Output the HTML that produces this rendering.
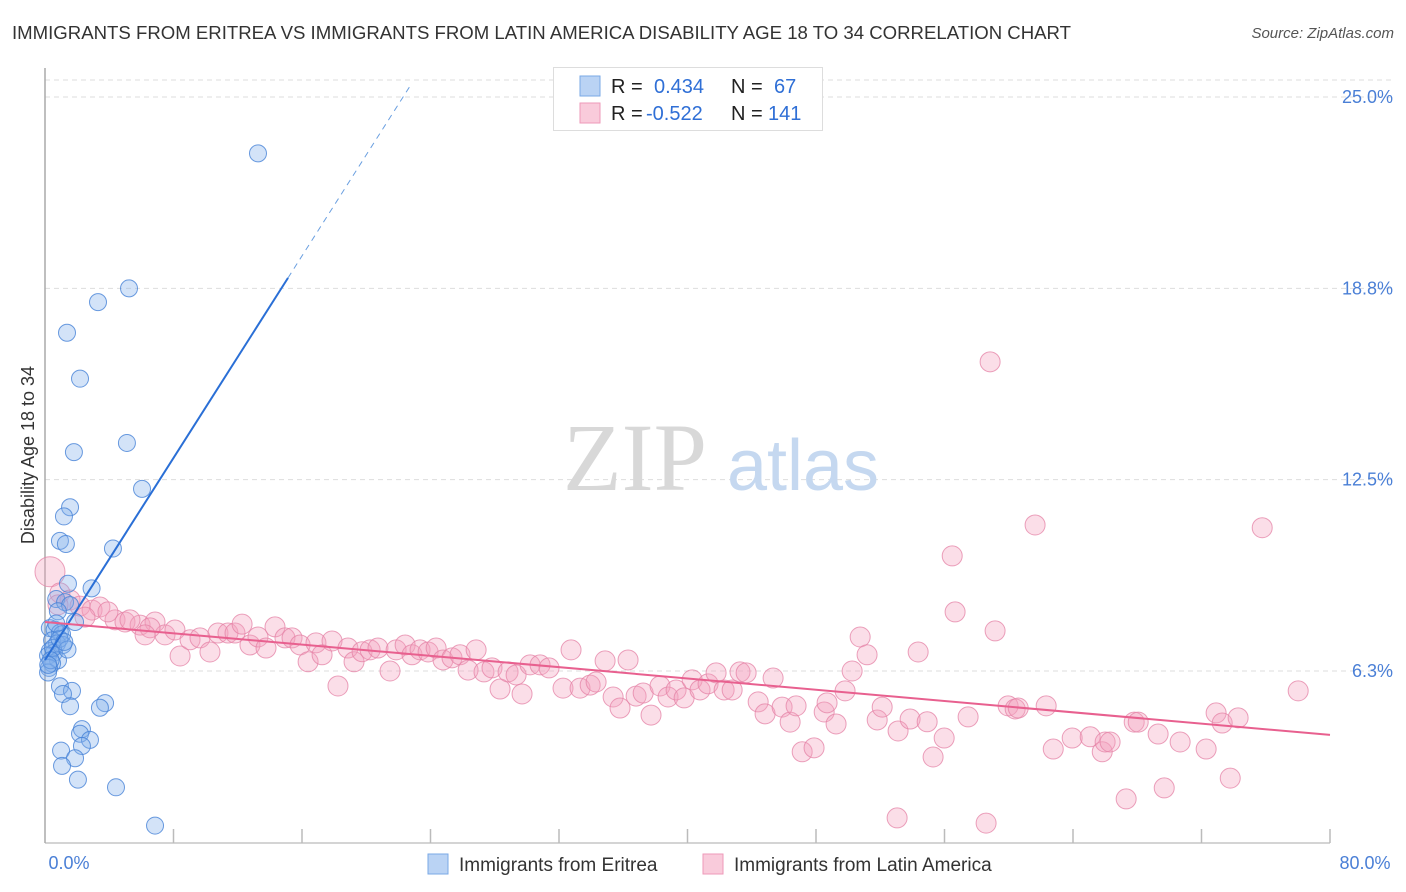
<!DOCTYPE html>
<html><head><meta charset="utf-8">
<style>
body{margin:0;background:#fff;font-family:"Liberation Sans",sans-serif;}
#wrap{position:relative;width:1406px;height:892px;overflow:hidden;}
.t{position:absolute;white-space:nowrap;}
</style></head><body>
<div id="wrap">
<div class="t" style="left:12px;top:22px;font-size:18.6px;color:#333;">IMMIGRANTS FROM ERITREA VS IMMIGRANTS FROM LATIN AMERICA DISABILITY AGE 18 TO 34 CORRELATION CHART</div>
<div class="t" style="right:12px;top:25px;font-size:15px;color:#555;font-style:italic;">Source: ZipAtlas.com</div>
<svg id="plot" width="1406" height="892" style="position:absolute;left:0;top:0"></svg>
</div>
<script>
const yTicks=[25.0,18.8,12.5,6.3];
const yTickVals=[25,18.75,12.5,6.25];
const blueX=[13.26,5.23,3.30,1.37,2.18,5.1,1.8,6.04,1.56,1.18,0.93,1.3,4.23,1.43,2.9,0.7,1.25,1.56,0.8,1.87,0.3,0.6,0.93,1.06,0.44,0.75,1.12,0.3,0.56,0.19,0.81,0.44,0.25,0.19,0.93,1.68,1.12,1.56,3.74,3.42,2.3,2.18,2.8,2.3,1.0,1.87,1.06,2.05,4.42,6.85,0.5,0.9,1.4,0.35,0.7,1.2,0.2];
const blueY=[23.16,18.75,18.3,17.3,15.8,13.7,13.4,12.2,11.6,11.3,10.5,10.4,10.25,9.1,8.95,8.6,8.5,8.4,8.2,7.85,7.65,7.6,7.5,7.45,7.25,7.15,7.1,6.9,6.85,6.75,6.6,6.5,6.35,6.2,5.75,5.6,5.5,5.1,5.2,5.05,4.35,4.2,4.0,3.8,3.65,3.4,3.15,2.7,2.45,1.2,7.0,7.3,6.95,6.6,7.8,7.2,6.45];
const pinkX=[4.36,4.98,5.92,6.85,7.47,8.09,8.41,9.03,9.65,10.27,10.77,11.39,11.83,12.27,12.76,13.26,13.76,14.32,14.94,15.38,15.88,16.38,16.87,17.25,17.87,18.24,18.86,19.24,19.74,20.24,20.73,21.48,21.86,22.42,22.85,23.35,23.85,24.35,24.78,25.34,25.84,26.34,26.84,27.33,27.83,28.33,28.83,29.33,29.70,30.20,30.82,31.38,32.25,32.75,33.31,33.94,34.31,34.87,35.37,35.80,36.30,36.80,37.24,37.73,38.29,38.79,39.29,39.79,40.29,40.78,41.28,41.78,42.28,42.78,43.27,43.65,44.40,44.83,45.33,45.89,46.39,46.76,47.14,47.88,48.51,48.69,49.25,49.81,50.25,50.75,51.18,51.81,52.12,53.05,53.11,53.86,54.36,54.92,55.29,55.98,56.48,56.66,57.47,58.59,58.84,59.15,59.96,60.40,60.59,61.64,62.33,62.77,63.95,65.07,65.82,66.00,66.31,67.31,67.81,68.06,69.30,69.68,70.67,72.29,72.91,73.29,73.79,74.28,75.78,78.02,0.31,0.93,1.56,2.18,2.93,3.42,3.92,0.81,2.49,5.29,6.54,6.23];
const pinkY=[7.92,7.85,7.75,7.85,7.43,7.59,6.74,7.27,7.33,6.87,7.49,7.49,7.49,7.78,7.10,7.36,7.00,7.69,7.33,7.33,7.10,6.55,7.17,6.78,7.23,5.76,7.00,6.55,6.88,6.94,7.00,6.25,6.94,7.10,6.78,6.94,6.87,7.00,6.61,6.68,6.78,6.28,6.94,6.22,6.35,5.66,6.22,6.12,5.50,6.45,6.45,6.35,5.69,6.94,5.69,5.79,5.89,6.58,5.40,5.04,6.61,5.43,5.53,4.81,5.76,5.40,5.63,5.37,5.96,5.63,5.83,6.19,5.63,5.63,6.22,6.19,5.24,4.85,6.02,5.07,4.58,5.11,3.61,3.74,4.91,5.21,4.52,5.60,6.25,7.36,6.78,4.65,5.07,1.45,4.29,4.68,6.87,4.59,3.44,4.06,10.01,8.18,4.75,1.28,16.35,7.56,5.11,5.01,5.04,11.02,5.11,3.70,4.06,4.10,3.61,3.93,3.93,2.07,4.58,4.58,4.19,2.43,3.93,3.70,4.88,4.55,2.75,4.72,10.93,5.60,9.49,8.80,8.57,8.37,8.24,8.34,8.18,8.41,8.01,7.92,7.66,7.43];
const blueTrend=[6.61,0.825];
const pinkTrend=[7.85,-0.0461];
const NS='http://www.w3.org/2000/svg';
const svg=document.getElementById('plot');
const X0=45,X1=1330,Y0=862.3,PPY=30.61;
function sx(v){return X0+(X1-X0)*v/80;}
function sy(v){return Y0-v*PPY;}
function mk(tag,attrs,parent){const e=document.createElementNS(NS,tag);for(const k in attrs)e.setAttribute(k,attrs[k]);(parent||svg).appendChild(e);return e;}
let g=mk('line',{x1:45,x2:1393,y1:80,y2:80,stroke:'#ddd','stroke-dasharray':'5,4'});


yTickVals.forEach((v,i)=>{
 const l=mk('line',{x1:45,x2:1393,y1:sy(v),y2:sy(v),stroke:'#ddd','stroke-dasharray':'5,4'});
 
 
 const t=mk('text',{x:1393,y:sy(v)+6,'text-anchor':'end','font-size':18,fill:'#4a7fd6','font-family':'Liberation Sans, sans-serif'});
 t.textContent=yTicks[i].toFixed(1)+'%';
 
 
});
let a=mk('line',{x1:45,x2:45,y1:68,y2:843,stroke:'#aaa','stroke-width':1.5});


a=mk('line',{x1:45,x2:1330,y1:843,y2:843,stroke:'#aaa','stroke-width':1});


for(let i=1;i<=10;i++){const tk=mk('line',{x1:sx(i*8),x2:sx(i*8),y1:829,y2:843,stroke:'#bbb','stroke-width':1.5});
 
 }
let w=mk('text',{x:635,y:490,'text-anchor':'middle','font-size':96,fill:'#d8d8d8','font-family':'Liberation Serif, serif'});w.textContent='ZIP';


w=mk('text',{x:803,y:490,'text-anchor':'middle','font-size':72,fill:'#c5d8f0','font-family':'Liberation Sans, sans-serif'});w.textContent='atlas';


pinkX.forEach((x,i)=>{const r=i===pinkX.length-12?15:10;
 const c=mk('circle',{cx:sx(x),cy:sy(pinkY[i]),r:r,fill:'rgba(244,160,190,0.35)',stroke:'rgba(228,130,165,0.75)','stroke-width':1});
 
 });
blueX.forEach((x,i)=>{
 const c=mk('circle',{cx:sx(x),cy:sy(blueY[i]),r:8.5,fill:'rgba(130,175,235,0.35)',stroke:'rgba(70,130,215,0.8)','stroke-width':1});
 
 });
const bEnd=15.13,bDash=(25.4-blueTrend[0])/blueTrend[1];
let tl=mk('line',{x1:sx(0),y1:sy(blueTrend[0]),x2:sx(bEnd),y2:sy(blueTrend[0]+blueTrend[1]*bEnd),stroke:'#2a6fd6','stroke-width':2});


tl=mk('line',{x1:sx(bEnd),y1:sy(blueTrend[0]+blueTrend[1]*bEnd),x2:sx(bDash),y2:sy(25.4),stroke:'#6a9fe0','stroke-width':1,'stroke-dasharray':'6,5'});


tl=mk('line',{x1:sx(0),y1:sy(pinkTrend[0]),x2:sx(80),y2:sy(pinkTrend[0]+pinkTrend[1]*80),stroke:'#e8608f','stroke-width':2});


let t=mk('text',{x:69,y:869,'text-anchor':'middle','font-size':18,fill:'#4a7fd6','font-family':'Liberation Sans, sans-serif'});t.textContent='0.0%';


t=mk('text',{x:1365,y:869,'text-anchor':'middle','font-size':18,fill:'#4a7fd6','font-family':'Liberation Sans, sans-serif'});t.textContent='80.0%';


t=mk('text',{x:0,y:0,transform:'translate(34,455) rotate(-90)','text-anchor':'middle','font-size':18,fill:'#333','font-family':'Liberation Sans, sans-serif'});t.textContent='Disability Age 18 to 34';


let lg=mk('rect',{x:553.5,y:67.5,width:269,height:63,fill:'#fff',stroke:'#ddd'});


[[0,'rgba(130,175,235,0.55)','#7aa8e6','0.434',' 67'],[1,'rgba(244,160,190,0.55)','#ee9ab8','-0.522','141']].forEach(([i,f,s,r,n])=>{
 const y=86+i*27;
 const sq=mk('rect',{x:580,y:y-10,width:20,height:20,fill:f,stroke:s});
 
 
 const tx=mk('text',{x:611,y:y+7,'font-size':20,fill:'#222','font-family':'Liberation Sans, sans-serif'});
 tx.innerHTML='R = <tspan fill="#2f6fd6" x="'+(i?646:654)+'">'+r+'</tspan><tspan x="731">N = </tspan><tspan fill="#2f6fd6" x="'+(i?768:774)+'">'+n.trim()+'</tspan>';
 
 
});
[[428,'rgba(130,175,235,0.55)','#7aa8e6','Immigrants from Eritrea','legend-eritrea'],[703,'rgba(244,160,190,0.55)','#ee9ab8','Immigrants from Latin America','legend-latin-america']].forEach(([x,f,s,l,nm])=>{
 const sq=mk('rect',{x:x,y:854,width:20,height:20,fill:f,stroke:s});
 
 
 const tx=mk('text',{x:x+31,y:871,'font-size':19,fill:'#333','font-family':'Liberation Sans, sans-serif'});tx.textContent=l;
 
 
});
</script>
</body></html>
